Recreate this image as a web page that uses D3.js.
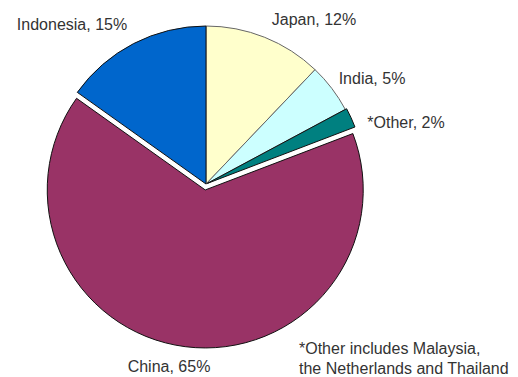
<!DOCTYPE html>
<html><head><meta charset="utf-8">
<script src="https://cdn.jsdelivr.net/npm/d3@7"></script>
<style>body{margin:0;background:#fff}svg{display:block}text{font-family:"Liberation Sans",Arial,sans-serif;font-size:16px;fill:#333}</style>
</head><body>
<script>
const categories = ["Japan", "India", "*Other", "China", "Indonesia"];
const values = [12, 5, 2, 65, 15];
const colors = ["#FFFFCC", "#CCFFFF", "#008080", "#993366", "#0066CC"];
const explode = [0, 0, 1.5, 6, 0];
const labelPos = [[314, 25], [372, 84], [406, 128], [169, 372], [72, 30]];
const footnote = ["*Other includes Malaysia,", "the Netherlands and Thailand"];

const W = 518, H = 377, cx = 206, cy = 184, r = 158;
const svg = d3.select("body").append("svg").attr("width", W).attr("height", H);
const pie = d3.pie().sort(null).value(d => d)(values);
const arc = d3.arc().innerRadius(0).outerRadius(r);
const g = svg.append("g").attr("transform", `translate(${cx},${cy})`);
g.selectAll("path").data(pie).join("path")
  .attr("d", arc)
  .attr("fill", (d, i) => colors[i])
  .attr("stroke", (d, i) => i === 0 || i === 1 ? "#666" : "#111")
  .attr("stroke-width", 1)
  .attr("transform", (d, i) => {
    const a = (d.startAngle + d.endAngle) / 2;
    return `translate(${Math.sin(a) * explode[i]},${-Math.cos(a) * explode[i]})`;
  });
svg.selectAll("text.lbl").data(pie).join("text").attr("class", "lbl")
  .attr("x", (d, i) => labelPos[i][0]).attr("y", (d, i) => labelPos[i][1])
  .attr("text-anchor", "middle")
  .text((d, i) => `${categories[i]}, ${values[i]}%`);
svg.selectAll("text.fn").data(footnote).join("text").attr("class", "fn")
  .attr("x", 299).attr("y", (d, i) => 354 + i * 20)
  .text(d => d);
</script>
</body></html>
